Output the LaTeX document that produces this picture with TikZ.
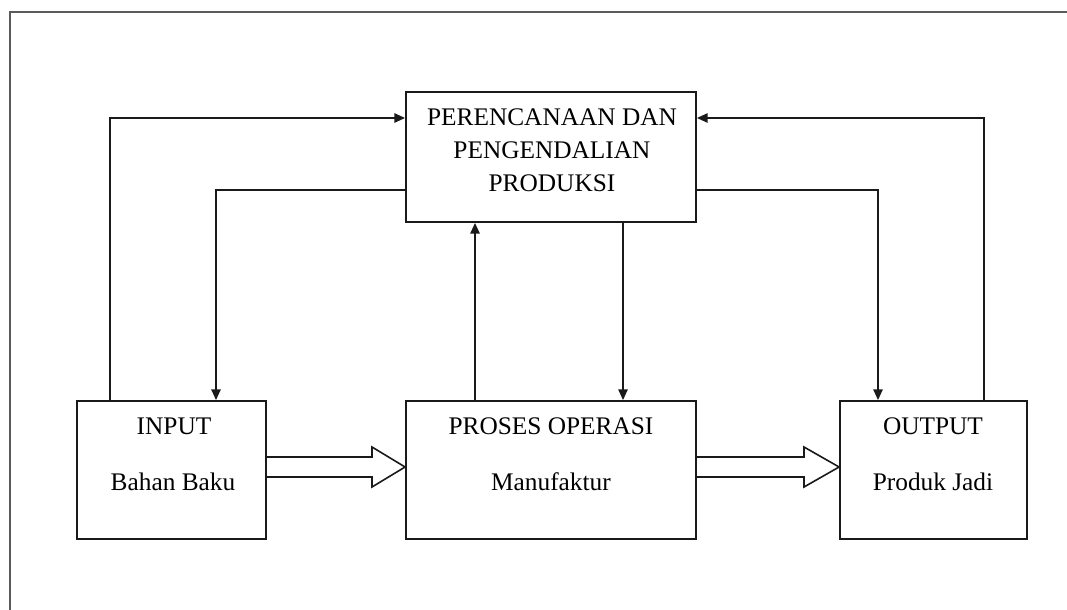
\documentclass[tikz,border=0pt]{standalone}
\usepackage{fontspec}
\setmainfont{Liberation Serif}
\usetikzlibrary{arrows.meta,calc}
\definecolor{ln}{HTML}{1A1A1A}
\definecolor{frm}{HTML}{5A5A5A}
\begin{document}
\begin{tikzpicture}[x=0.75pt,y=-0.75pt,
  box/.style={draw=ln,line width=1.4pt,inner sep=0pt},
  lbl/.style={anchor=base,inner sep=0pt,font=\fontsize{19pt}{24pt}\selectfont},
  fb/.style={draw=ln,line width=1.2pt,-{Triangle[length=8pt,width=7pt]}},
  hollow/.style={draw=ln,line width=1.2pt,line join=miter},
  frame/.style={draw=frm,line width=1.4pt}]
\useasboundingbox (0,0) rectangle (1067,610);
% outer frame
\coordinate (fa) at (10,610);
\coordinate (fb) at (10,12);
\coordinate (fc) at (1067,12);
\draw[frame] (fa) -- (fb) -- (fc);
% boxes
\node[box,minimum width=217.5pt,minimum height=97.5pt] (plan) at (551,157) {};
\node[box,minimum width=141.75pt,minimum height=103.5pt] (inp) at (171.5,470) {};
\node[box,minimum width=217.5pt,minimum height=103.5pt] (mid) at (551,470) {};
\node[box,minimum width=140.25pt,minimum height=103.5pt] (out) at (933.5,470) {};
% texts
\node[lbl] (p1) at (552,125) {PERENCANAAN DAN};
\node[lbl] (p2) at (552,158) {PENGENDALIAN};
\node[lbl] (p3) at (552,191) {PRODUKSI};
\node[lbl] (i1) at (174,434) {INPUT};
\node[lbl] (i2) at (173,490) {Bahan Baku};
\node[lbl] (m1) at (551,434) {PROSES OPERASI};
\node[lbl] (m2) at (551,490) {Manufaktur};
\node[lbl] (o1) at (933,434) {OUTPUT};
\node[lbl] (o2) at (933,490) {Produk Jadi};
% feedback connectors
\draw[fb] (inp.north -| 110,0) |- (plan.west |- 0,118);
\draw[fb] (plan.west |- 0,190) -| (inp.north -| 216,0);
\draw[fb] (mid.north -| 475,0) -- (plan.south -| 475,0);
\draw[fb] (plan.south -| 623,0) -- (mid.north -| 623,0);
\draw[fb] (plan.east |- 0,190) -| (out.north -| 878,0);
\draw[fb] (out.north -| 984,0) |- (plan.east |- 0,118);
% hollow arrows
\draw[hollow] (inp.east |- 0,457) -- (372,457) -- (372,447) -- (mid.west |- 0,467)
  -- (372,487) -- (372,477) -- (inp.east |- 0,477);
\draw[hollow] (mid.east |- 0,457) -- (804,457) -- (804,447) -- (out.west |- 0,467)
  -- (804,487) -- (804,477) -- (mid.east |- 0,477);
\end{tikzpicture}
\end{document}
